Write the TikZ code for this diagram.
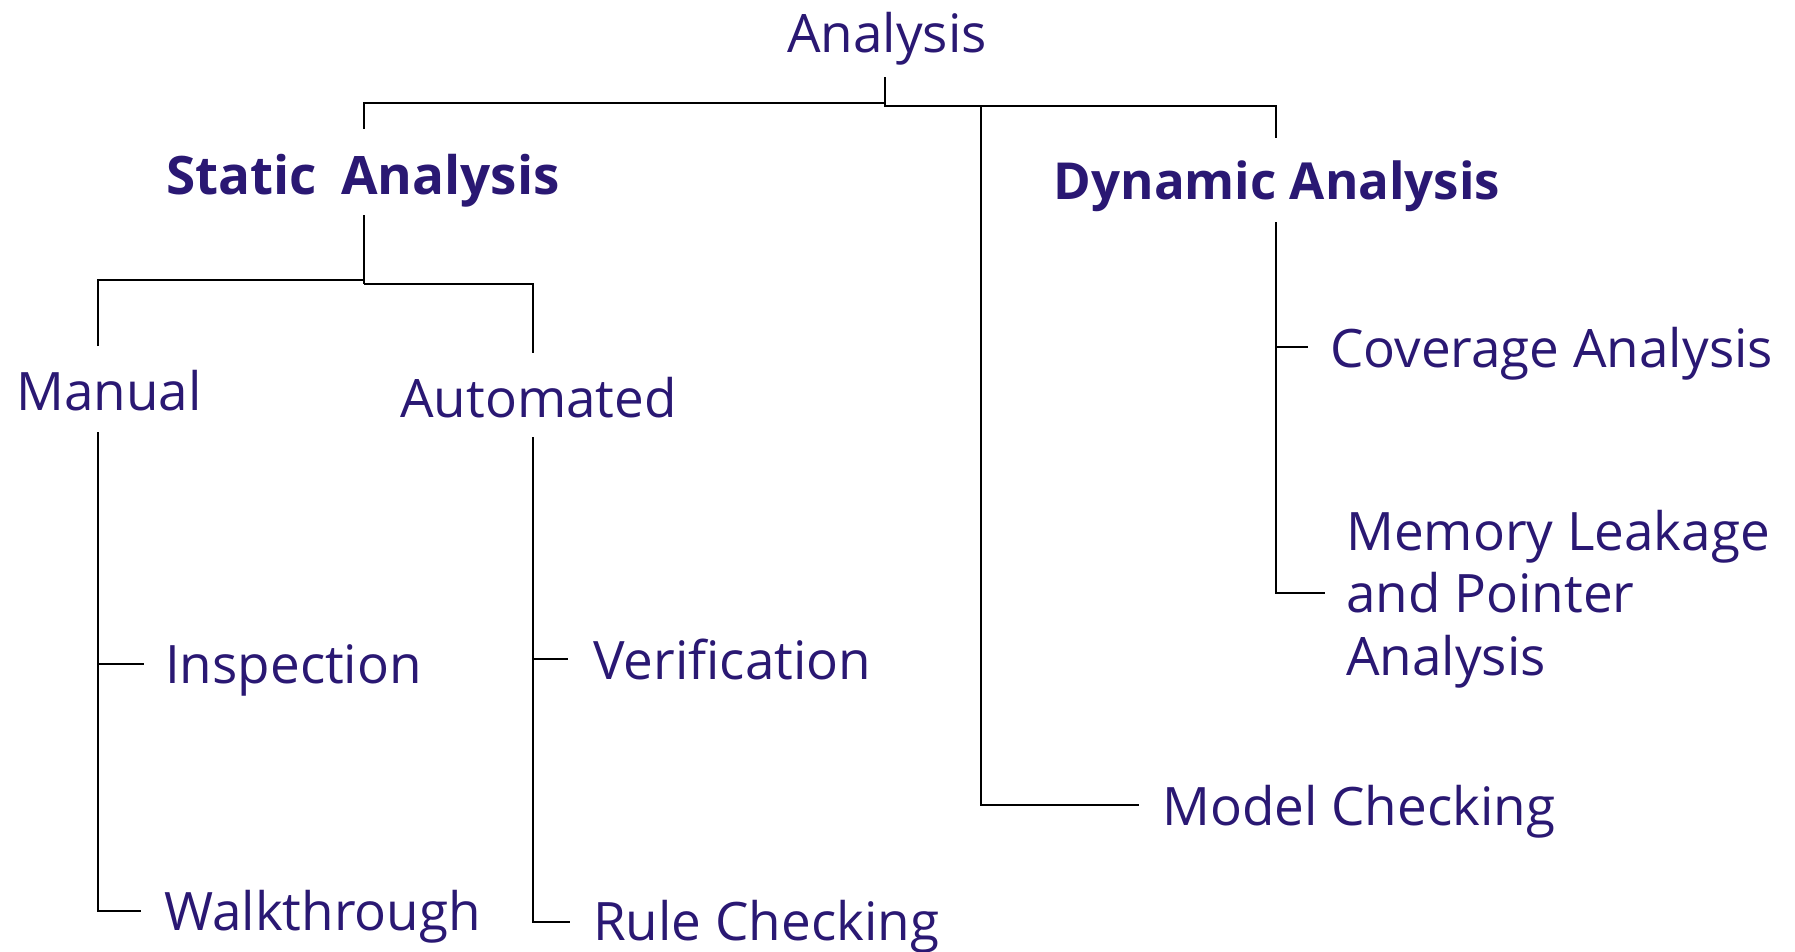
\documentclass[tikz,border=0pt]{standalone}
\usepackage{fontspec}
\setmainfont{Open Sans}
\definecolor{ink}{RGB}{42,24,115}
\begin{document}
\begin{tikzpicture}[x=1pt,y=-1pt,
  lbl/.style={anchor=base west,inner sep=0pt,text=ink,font=\fontsize{53}{62.5}\selectfont},
  blbl/.style={lbl,anchor=base,font=\fontsize{53}{62.5}\selectfont\bfseries},
  conn/.style={draw=black,line width=2.2pt}]
\useasboundingbox[fill=white] (0,0) rectangle (1795,952);
% nodes
\node[lbl]  (an)  at (787,53)  {Analysis};
\node[blbl] (sa)  at (363,195) {Static\hspace{0.2em} Analysis};
\node[blbl,font=\fontsize{51}{62.5}\selectfont\bfseries] (da)  at (1277,200) {Dynamic Analysis};
\node[lbl]  (man) at (16,410)  {Manual};
\node[lbl]  (aut) at (400,417) {Automated};
\node[lbl]  (ins) at (165,683) {Inspection};
\node[lbl]  (wal) at (164,930) {Walkthrough};
\node[lbl]  (ver) at (593,679) {Verification};
\node[lbl]  (rul) at (593,940) {Rule Checking};
\node[lbl]  (cov) at (1330,367) {Coverage Analysis};
\node[lbl,align=left] (mem) at (1346,675) {Memory Leakage\\and Pointer\\Analysis};
\node[lbl]  (mod) at (1162,825) {Model Checking};
% junction coordinates
\coordinate (anB) at (885,77);
\coordinate (anJ) at (885,103);
\coordinate (anJ2) at (885,106);
\coordinate (saT) at (364,129);
\coordinate (daT) at (1276,138);
\coordinate (mcJ) at (981,106);
\coordinate (mcE) at (1139,805);
\coordinate (saB) at (364,215);
\coordinate (saJ) at (364,280);
\coordinate (saJ2) at (364,284);
\coordinate (manT) at (98,346);
\coordinate (autT) at (533,353);
\coordinate (manB) at (98,432);
\coordinate (insE) at (144,664);
\coordinate (walE) at (141,911);
\coordinate (autB) at (533,437);
\coordinate (verE) at (568,659);
\coordinate (rulE) at (570,922);
\coordinate (daB) at (1276,222);
\coordinate (covE) at (1308,347);
\coordinate (memE) at (1325,593);
% connectors
\draw[conn] (saT) |- (anJ) -- (anB);
\draw[conn] (anJ) -- (anJ2) -| (daT);
\draw[conn] (mcJ) |- (mcE);
\draw[conn] (saB) -- (saJ2);
\draw[conn] (manT) |- (saJ);
\draw[conn] (saJ2) -| (autT);
\draw[conn] (manB) |- (walE);
\draw[conn] (manB |- insE) -- (insE);
\draw[conn] (autB) |- (rulE);
\draw[conn] (autB |- verE) -- (verE);
\draw[conn] (daB) |- (memE);
\draw[conn] (daB |- covE) -- (covE);
\end{tikzpicture}
\end{document}
